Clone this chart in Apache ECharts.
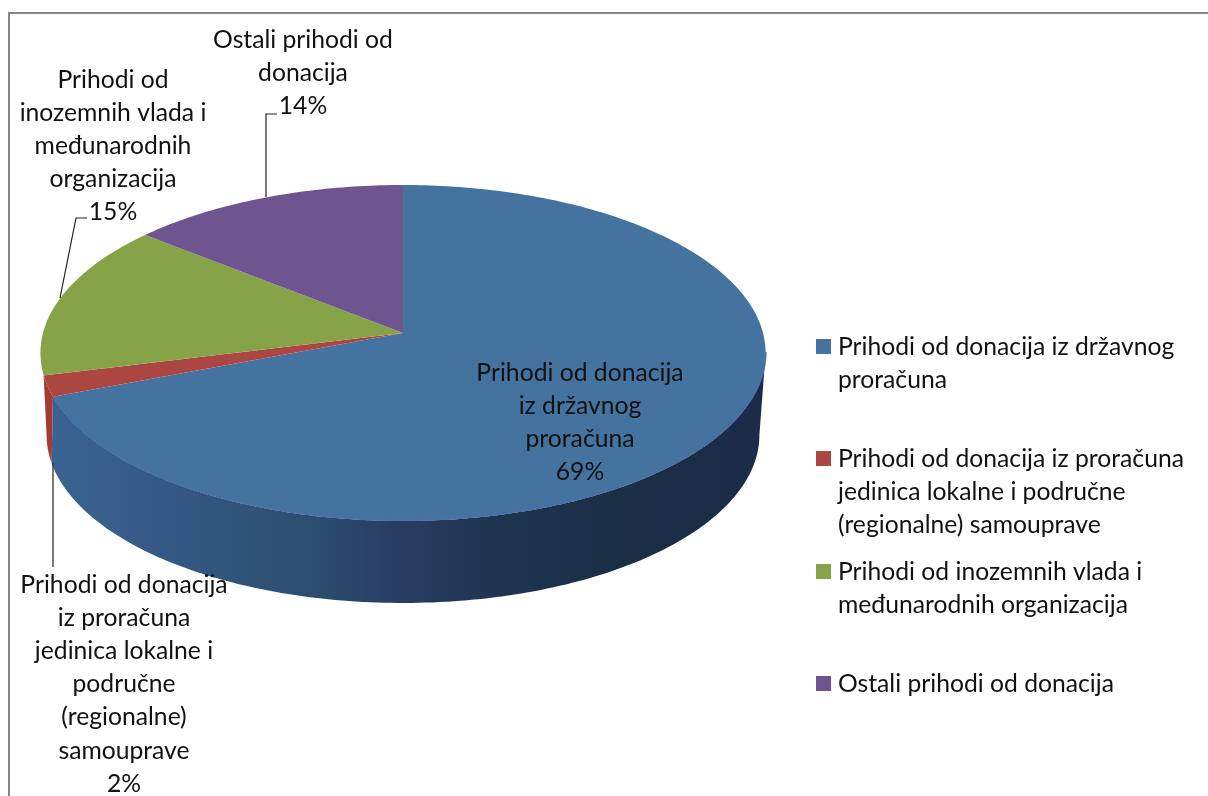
<!DOCTYPE html>
<html lang="hr">

<head>
	<meta charset="UTF-8">
	<title>Prihodi od donacija</title>
	<script src="https://cdn.jsdelivr.net/npm/echarts@6/dist/echarts.min.js"></script>
	<style>
		html, body { margin: 0; padding: 0; background: #fff; }
	</style>
</head>

<body>
	<div id="chart" style="width: 1208px;height: 796px;"></div>
</body>

<script>
	// data
	const categories = [
		'Prihodi od donacija iz državnog proračuna',
		'Prihodi od donacija iz proračuna jedinica lokalne i područne (regionalne) samouprave',
		'Prihodi od inozemnih vlada i međunarodnih organizacija',
		'Ostali prihodi od donacija'
	]
	const values = [69, 2, 15, 14]
	const colors = ['#44739f', '#ab4643', '#87a348', '#6f5590']
	const legendLines = [
		['Prihodi od donacija iz državnog', 'proračuna'],
		['Prihodi od donacija iz proračuna', 'jedinica lokalne i područne', '(regionalne) samouprave'],
		['Prihodi od inozemnih vlada i', 'međunarodnih organizacija'],
		['Ostali prihodi od donacija']
	]
	const labelLines = [
		['Prihodi od donacija', 'iz državnog', 'proračuna'],
		['Prihodi od donacija', 'iz proračuna', 'jedinica lokalne i', 'područne', '(regionalne)', 'samouprave'],
		['Prihodi od', 'inozemnih vlada i', 'međunarodnih', 'organizacija'],
		['Ostali prihodi od', 'donacija']
	]

	// layout of the tilted disc (Excel 3D pie has some perspective)
	const cx = 403, cy = 333, persp = 0.119, radX = 360, radY = 165.6
	const wallDrop = 82, wallShrink = 0.983
	const font = '24.7px Lato, Carlito, sans-serif'
	const lineH = 33.2
	const labelPos = [[580, 356], [124, 568], [113, 63], [303, 23]]
	const leaders = [
		null,
		[[53, 463], [53, 567]],
		[[60, 298], [76, 218], [87, 218]],
		[[266, 197], [266, 114], [277, 114]]
	]
	const legendY = [339, 451, 564, 676]
	// angles of the wall on the lower edge, only blue and red show a wall
	const wallTop = [[96.8, 248.4], [248.4, 255.6], null, null]
	const wallBottom = [[96.8, 253.7], [253.7, 263.2], null, null]

	function project(deg, drop, shrink) {
		const t = deg * Math.PI / 180
		const u = Math.sin(t), v = -Math.cos(t)
		const w = 1 - persp * v
		return [cx + radX * shrink * u / w, cy + drop + radY * v / w]
	}

	function arc(from, to, drop, shrink) {
		const pts = []
		const n = Math.max(2, Math.ceil(to - from))
		for (let i = 0; i <= n; i++) {
			pts.push(project(from + (to - from) * i / n, drop, shrink))
		}
		return pts
	}

	const total = values.reduce((a, b) => a + b, 0)

	function wallFill(i) {
		if (i !== 0) return '#a33a34'
		return {
			type: 'linear', x: 40, y: 0, x2: 767, y2: 0, global: true,
			colorStops: [
				{ offset: 0, color: '#3a6494' },
				{ offset: 0.15, color: '#365a88' },
				{ offset: 0.28, color: '#2f5478' },
				{ offset: 0.4, color: '#2a4b6e' },
				{ offset: 0.5, color: '#283c60' },
				{ offset: 0.62, color: '#1f3551' },
				{ offset: 0.8, color: '#1a2e45' },
				{ offset: 1, color: '#1c2b48' }
			]
		}
	}

	function renderSlice(params, api) {
		const i = params.dataIndex
		const value = api.value(1)
		let before = 0
		for (let k = 0; k < i; k++) before += values[k]
		const start = before / total * 360
		const end = start + value / total * 360
		const children = []

		// side wall, only the front part can be seen
		if (wallTop[i]) {
			const top = arc(wallTop[i][0], wallTop[i][1], 0, 1)
			const bottom = arc(wallBottom[i][0], wallBottom[i][1], wallDrop, wallShrink).reverse()
			children.push({
				type: 'polygon',
				shape: { points: top.concat(bottom) },
				style: { fill: wallFill(i) }
			})
		}

		// top face
		children.push({
			type: 'polygon',
			shape: { points: [[cx, cy]].concat(arc(start, end, 0, 1)) },
			style: { fill: colors[i] }
		})

		// lighter rim on the front edge
		if (i === 0) {
			children.push({
				type: 'polyline',
				shape: { points: arc(wallTop[0][0], wallTop[0][1], -1, 1) },
				style: { stroke: '#4a70a8', lineWidth: 2, fill: null }
			})
		}

		if (leaders[i]) {
			children.push({
				type: 'polyline',
				shape: { points: leaders[i] },
				style: { stroke: '#222', lineWidth: 1.2, fill: null }
			})
		}

		children.push({
			type: 'text',
			style: {
				text: labelLines[i].concat(value + '%').join('\n'),
				x: labelPos[i][0],
				y: labelPos[i][1],
				align: 'center',
				verticalAlign: 'top',
				lineHeight: lineH,
				font: font,
				fill: '#111'
			}
		})
		return { type: 'group', children: children }
	}

	const legendGraphic = []
	legendLines.forEach((lines, i) => {
		legendGraphic.push({
			type: 'rect',
			shape: { x: 816, y: legendY[i], width: 15, height: 15 },
			style: { fill: colors[i] }
		})
		legendGraphic.push({
			type: 'text',
			style: {
				text: lines.join('\n'),
				x: 838,
				y: legendY[i] - 9,
				verticalAlign: 'top',
				lineHeight: lineH,
				font: font,
				fill: '#111'
			}
		})
	})

	let mcharts = echarts.init(document.getElementById('chart'))

	let option = {
		animation: false,
		backgroundColor: '#fff',
		graphic: [
			{
				type: 'rect',
				z: -1,
				shape: { x: 9, y: 13, width: 1300, height: 900 },
				style: { fill: '#fff', stroke: '#868686', lineWidth: 2 }
			}
		].concat(legendGraphic),
		series: [
			{
				type: 'custom',
				coordinateSystem: 'none',
				z: 2,
				data: categories.map((name, i) => ({ name: name, value: [i, values[i]] })),
				renderItem: renderSlice
			}
		]
	}

	mcharts.setOption(option)
</script>

</html>
